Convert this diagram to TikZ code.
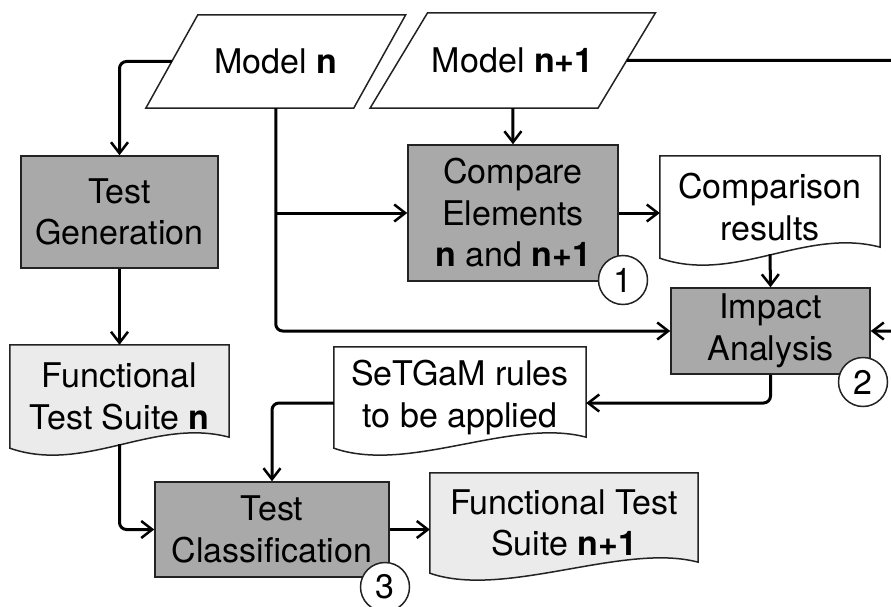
\documentclass[tikz,border=0pt]{standalone}
\usepackage{fontspec}
\setmainfont{TeX Gyre Heros}
\usetikzlibrary{arrows.meta,calc,backgrounds}
\definecolor{boxgray}{RGB}{169,169,169}
\definecolor{docgray}{RGB}{235,235,235}
\definecolor{edgegray}{RGB}{35,35,35}
\begin{document}
\begin{tikzpicture}
            [
                x = 1pt, y = -1pt,
                every node/.style = {align=center, inner sep=0pt,
                font=\fontsize{34}{41.5}\selectfont},
                model/.style = {shape=rectangle},
                task/.style = {shape=rectangle, draw=edgegray, line width=1.5pt,
                fill=boxgray},
                doc/.style = {shape=rectangle},
                outline/.style = {draw=edgegray, line width=1.5pt},
                stepnum/.style = {shape=circle, draw=edgegray, line width=1.5pt,
                fill=white, minimum size=49pt},
                conn/.style = {line width=3pt, draw=black, rounded corners=7pt,
                -{Straight Barb[length=11pt,width=17pt,line width=2.5pt]}}
            ]
            \clip (0,0) rectangle (891,607);
            \node[model, minimum width=207.5, minimum height=93] (mn) at (275.75,61.5)
                {Model \textbf{n}};
            \node[model, minimum width=227.5, minimum height=95] (mnn) at (512.75,60.5)
                {Model \textbf{n+1}};
            \node[task, minimum width=197, minimum height=112] (tgen) at (119.5,212)
                {Test\\Generation};
            \node[task, minimum width=210, minimum height=136] (cmp) at (513,213)
                {Compare\\Elements\\\textbf{n} and \textbf{n+1}};
            \node[doc, minimum width=220, minimum height=102] (cmpres) at (770,207)
                {Comparison\\results};
            \node[task, minimum width=199, minimum height=86] (impact) at (770.5,331)
                {Impact\\Analysis};
            \node[doc, minimum width=219, minimum height=103] (ftsn) at (119.5,396.5)
                {Functional\\Test Suite \textbf{n}};
            \node[doc, minimum width=252, minimum height=101] (setgam) at (460,397.5)
                {SeTGaM rules\\to be applied};
            \node[task, minimum width=234, minimum height=95] (tclass) at (272,529.5)
                {Test\\Classification};
            \node[doc, minimum width=268, minimum height=100] (ftsnn) at (564,523)
                {Functional Test\\Suite \textbf{n+1}};
            \begin{scope}[on background layer]
                \foreach \m/\s in {mn/26, mnn/28.75}
                    \draw[outline, fill=white]
                        ($(\m.north west)+(\s,0)$) -- ($(\m.north east)+(\s,0)$)
                        -- ($(\m.south east)+(-\s,0)$) -- ($(\m.south west)+(-\s,0)$)
                        -- cycle;
                \foreach \d/\c in {cmpres/white, setgam/white, ftsn/docgray, ftsnn/docgray}
                    \draw[outline, fill=\c]
                        (\d.north west) -- (\d.north east)
                        -- ($(\d.south east)+(0,-11)$)
                        .. controls +(-75,-20) and +(75,26) .. (\d.south west) -- cycle;
            \end{scope}
            \node[stepnum] (s1) at (623,280) {1};
            \node[stepnum] (s2) at (863,382) {2};
            \node[stepnum] (s3) at (385,587) {3};
            \draw[conn] (mn.west) -| (tgen.north);
            \draw[conn] (mnn.south) -- (cmp.north);
            \draw[conn] (mn.south) |- (impact.west);
            \draw[conn] (mn.south |- cmp.west) -- (cmp.west);
            \draw[conn] (mnn.east) -- (930,60.5) |- (impact.east);
            \draw[conn] (cmp.east) -- (cmp.east -| cmpres.west);
            \draw[conn] ($(cmpres.south)+(0,-4)$) -- (impact.north);
            \draw[conn] (impact.south) |- ($(setgam.east)+(0,5.5)$);
            \draw[conn] ($(setgam.west)+(0,5.5)$) -| (tclass.north);
            \draw[conn] (tgen.south) -- (ftsn.north);
            \draw[conn] ($(ftsn.south)+(0,-4)$) |- (tclass.west);
            \draw[conn] (tclass.east) -- (tclass.east -| ftsnn.west);
        \end{tikzpicture}
\end{document}
